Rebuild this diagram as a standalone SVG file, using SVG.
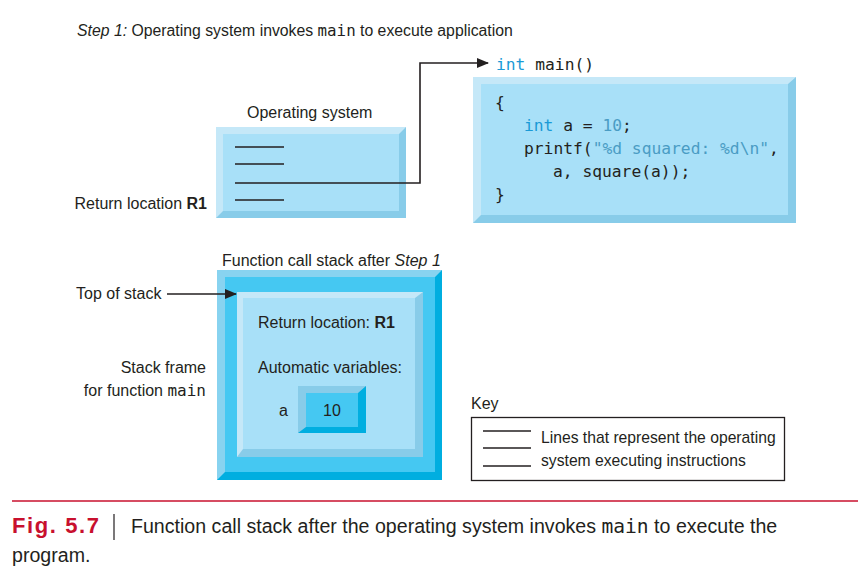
<svg xmlns="http://www.w3.org/2000/svg" width="864" height="576" viewBox="0 0 864 576">
<defs>
<style>
text{font-family:"Liberation Sans",Arial,sans-serif;font-size:16px;fill:#231f20}
.mono{font-family:"DejaVu Sans Mono",monospace}
.code{font-family:"DejaVu Sans Mono",monospace;font-size:16.3px}
.kw{fill:#1a9ad6}
.lit{fill:#4a9cc4}
.it{font-style:italic}
.b{font-weight:bold}
.blk{stroke:#231f20;stroke-width:1.6;fill:none}
.pale-d{fill:#88cce9}.pale-l{fill:#c5e8f8}.pale-f{fill:#a8e0f8}
.cy-d{fill:#00aee0}.cy-l{fill:#88d3f0}.cy-f{fill:#45c8f2}
</style>
<marker id="ah" markerWidth="12" markerHeight="10" refX="11" refY="5" orient="auto" markerUnits="userSpaceOnUse">
<path d="M0,0 L12,5 L0,10 Z" fill="#231f20"/>
</marker>
</defs>
<rect width="864" height="576" fill="#fff"/>

<text x="77" y="36" style="font-size:15.8px"><tspan class="it">Step 1:</tspan> Operating system invokes <tspan class="mono">main</tspan> to execute application</text>

<g id="os">
<text x="247" y="118">Operating system</text>
<rect x="216" y="127" width="190" height="91" class="pale-d"/>
<polygon points="216,127 406,127 399,134 223,134 223,211 216,218" class="pale-l"/>
<rect x="223" y="134" width="176" height="77" class="pale-f"/>
<line x1="235" y1="147" x2="284" y2="147" class="blk"/>
<line x1="235" y1="164" x2="284" y2="164" class="blk"/>
<line x1="235" y1="200" x2="284" y2="200" class="blk"/>
<text x="207" y="209" text-anchor="end">Return location <tspan class="b">R1</tspan></text>
</g>

<g id="main">
<text x="496" y="70" class="code"><tspan class="kw">int</tspan> main()</text>
<rect x="473" y="77" width="323" height="146" class="pale-d"/>
<polygon points="473,77 796,77 788,84 481,84 481,215 473,223" class="pale-l"/>
<rect x="481" y="84" width="307" height="131" class="pale-f"/>
<text x="495" y="108" class="code">{</text>
<text x="524" y="131" class="code"><tspan class="kw">int</tspan> a = <tspan class="lit">10</tspan>;</text>
<text x="524" y="154" class="code">printf(<tspan class="lit">"%d squared: %d\n"</tspan>,</text>
<text x="553" y="177" class="code">a, square(a));</text>
<text x="495" y="200" class="code">}</text>
</g>

<g id="stack">
<text x="222" y="266">Function call stack after <tspan class="it">Step 1</tspan></text>
<rect x="217" y="270" width="225" height="210" class="cy-d"/>
<polygon points="217,270 442,270 435,277 225,277 225,472 217,480" class="cy-l"/>
<rect x="225" y="277" width="210" height="195" class="cy-f"/>
</g>

<g id="frame">
<rect x="237" y="292" width="186" height="165" class="pale-d"/>
<polygon points="237,292 423,292 415,298 243,298 243,449 237,457" class="pale-l"/>
<rect x="243" y="298" width="172" height="151" class="pale-f"/>
<text x="258" y="328">Return location: <tspan class="b">R1</tspan></text>
<text x="258" y="373">Automatic variables:</text>
</g>

<g id="var-a">
<text x="279" y="416">a</text>
<rect x="298" y="386" width="68" height="47" class="cy-d"/>
<polygon points="298,386 366,386 358,393 306,393 306,427 298,433" class="pale-d"/>
<rect x="306" y="393" width="52" height="34" class="cy-f"/>
<text x="332" y="416" text-anchor="middle">10</text>
</g>

<g id="labels">
<text x="76" y="299">Top of stack</text>
<text x="206" y="373" text-anchor="end">Stack frame</text>
<text x="206" y="396" text-anchor="end">for function <tspan class="mono">main</tspan></text>
</g>

<g id="connectors">
<polyline points="235,183 420,183 420,63 488,63" class="blk" marker-end="url(#ah)"/>
<line x1="167" y1="294" x2="236" y2="294" class="blk" marker-end="url(#ah)"/>
</g>

<g id="key">
<text x="471" y="409">Key</text>
<rect x="471.5" y="417.5" width="313" height="63" fill="none" stroke="#231f20" stroke-width="1.3"/>
<line x1="483" y1="431" x2="531" y2="431" class="blk"/>
<line x1="483" y1="448" x2="531" y2="448" class="blk"/>
<line x1="483" y1="466" x2="531" y2="466" class="blk"/>
<text x="541" y="443" style="font-size:15.7px">Lines that represent the operating</text>
<text x="541" y="466" style="font-size:15.7px">system executing instructions</text>
</g>

<g id="caption">
<line x1="12" y1="501" x2="858" y2="501" stroke="#c8102e" stroke-width="1.5"/>
<text x="12" y="533" style="font-size:22px;font-weight:bold;fill:#c8102e;letter-spacing:1.6px">Fig. 5.7</text>
<line x1="114" y1="514" x2="114" y2="540" stroke="#231f20" stroke-width="1.2"/>
<text x="131" y="533" style="font-size:19.6px">Function call stack after the operating system invokes <tspan class="mono">main</tspan> to execute the</text>
<text x="12" y="562" style="font-size:19.6px">program.</text>
</g>
</svg>
